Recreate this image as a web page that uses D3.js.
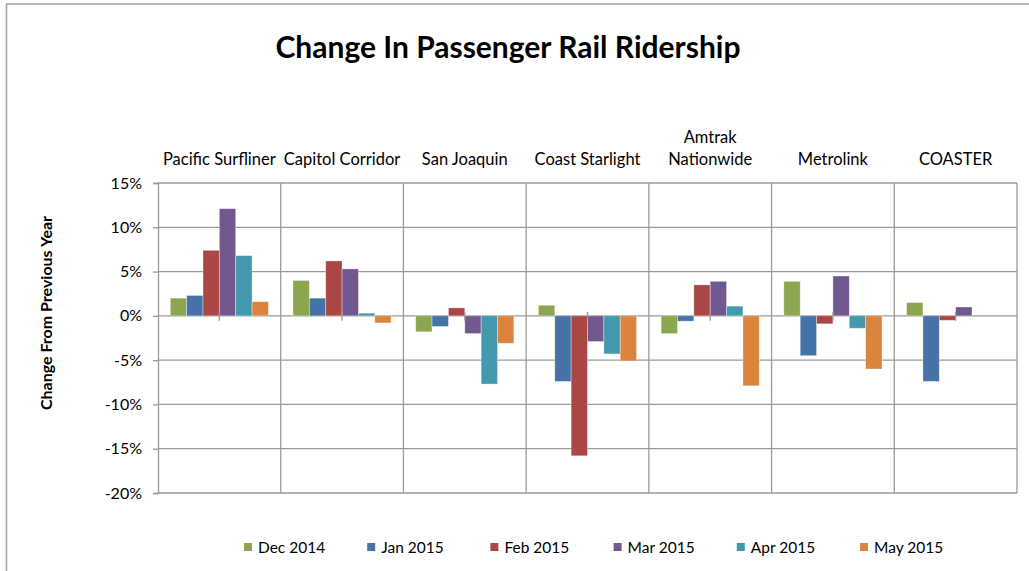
<!DOCTYPE html>
<html>
<head>
<meta charset="utf-8">
<script src="https://cdn.jsdelivr.net/npm/d3@7"></script>
<style>
  html, body { margin: 0; padding: 0; background: #fff; overflow: hidden; }
  svg { display: block; }
</style>
</head>
<body>
<svg id="chart" width="1029" height="571"></svg>
<script>
// Chart data
const categories = ['Pacific Surfliner', 'Capitol Corridor', 'San Joaquin', 'Coast Starlight', 'Amtrak Nationwide', 'Metrolink', 'COASTER'];
const seriesNames = ['Dec 2014', 'Jan 2015', 'Feb 2015', 'Mar 2015', 'Apr 2015', 'May 2015'];
// percent change per series, one value per category (null = no bar)
const dec2014 = [2.0, 4.0, -1.8, 1.2, -2.0, 3.9, 1.5];
const jan2015 = [2.3, 2.0, -1.2, -7.4, -0.6, -4.5, -7.4];
const feb2015 = [7.4, 6.2, 0.9, -15.8, 3.5, -0.9, -0.5];
const mar2015 = [12.1, 5.3, -2.0, -2.9, 3.9, 4.5, 1.0];
const apr2015 = [6.8, 0.3, -7.7, -4.3, 1.1, -1.4, null];
const may2015 = [1.6, -0.8, -3.1, -5.1, -7.9, -6.0, null];
const seriesValues = [dec2014, jan2015, feb2015, mar2015, apr2015, may2015];
const yTicks = [-20, -15, -10, -5, 0, 5, 10, 15];

const COLORS = ['#8aa64e', '#4572a7', '#aa4643', '#71588f', '#4198af', '#db843d'];

const C = {
  FONT: 'Lato, "Open Sans", sans-serif',
  GRID: '#9a9a9a',
  PLOT: { left: 158, right: 1017, top: 183, bottom: 493 },
  GAP_WIDTH: 0.75, // half of Excel's 150% gap, in bar widths
  TICK_SIZE: '16px',
  CAT_SIZE: '16.5px',
  Y_TITLE_CENTER: 313, // axis title sits a bit above the plot's middle
};

const svg = d3.select('#chart');

// outer chart frame (only top and left edges are visible in the picture)
svg.append('rect')
  .attr('x', 6.5).attr('y', 4)
  .attr('width', 1100).attr('height', 700)
  .attr('fill', 'none')
  .attr('stroke', '#a6a6a6')
  .attr('stroke-width', 1.6);

// Title
svg.append('text')
  .attr('x', 508).attr('y', 58)
  .attr('text-anchor', 'middle')
  .attr('font-family', C.FONT)
  .attr('font-weight', 'bold')
  .attr('font-size', '30px')
  .attr('fill', '#000')
  .text('Change In Passenger Rail Ridership');

const x = d3.scaleBand()
  .domain(categories)
  .range([C.PLOT.left, C.PLOT.right])
  .padding(0);

const xInner = d3.scaleBand()
  .domain(seriesNames)
  .range([0, x.bandwidth()])
  .paddingInner(0)
  .paddingOuter(C.GAP_WIDTH);

const y = d3.scaleLinear()
  .domain([-20, 15])
  .range([C.PLOT.bottom, C.PLOT.top]);

// horizontal gridlines
const grid = svg.append('g').attr('class', 'grid');
grid.selectAll('line.h')
  .data(yTicks)
  .join('line')
  .attr('class', 'h')
  .attr('x1', C.PLOT.left).attr('x2', C.PLOT.right)
  .attr('y1', d => y(d)).attr('y2', d => y(d))
  .attr('stroke', C.GRID)
  .attr('stroke-width', 1.3);

// vertical gridlines at category boundaries
grid.selectAll('line.v')
  .data(categories.slice(1).map(c => x(c)).concat([C.PLOT.right]))
  .join('line')
  .attr('class', 'v')
  .attr('x1', d => d).attr('x2', d => d)
  .attr('y1', C.PLOT.top).attr('y2', C.PLOT.bottom)
  .attr('stroke', C.GRID)
  .attr('stroke-width', 1.3);

// Y axis
const yAxis = d3.axisLeft(y)
  .tickValues(yTicks)
  .tickSize(5)
  .tickPadding(11)
  .tickFormat(d => d + '%');

const yAxisGroup = svg.append('g')
  .attr('transform', `translate(${C.PLOT.left},0)`)
  .call(yAxis);
yAxisGroup.select('.domain').attr('stroke', C.GRID).attr('stroke-width', 1.3);
yAxisGroup.selectAll('line').attr('stroke', C.GRID).attr('stroke-width', 1.3);
yAxisGroup.selectAll('text')
  .attr('font-family', C.FONT)
  .attr('font-size', C.TICK_SIZE)
  .attr('fill', '#000');

// Y axis title
svg.append('text')
  .attr('transform', `translate(52,${C.Y_TITLE_CENTER}) rotate(-90)`)
  .attr('text-anchor', 'middle')
  .attr('font-family', C.FONT)
  .attr('font-weight', 'bold')
  .attr('font-size', '16px')
  .attr('fill', '#000')
  .text('Change From Previous Year');

// Bars
const bars = svg.append('g').attr('class', 'bars');
seriesNames.forEach((name, si) => {
  const rows = categories.map((c, ci) => ({ c, v: seriesValues[si][ci] }))
    .filter(d => d.v !== null);
  bars.selectAll(null)
    .data(rows)
    .join('rect')
    .attr('x', d => x(d.c) + xInner(name))
    .attr('width', xInner.bandwidth())
    .attr('y', d => y(Math.max(0, d.v)))
    .attr('height', d => Math.abs(y(d.v) - y(0)))
    .attr('fill', COLORS[si])
    .attr('stroke', 'rgba(255,255,255,0.45)')
    .attr('stroke-width', 0.8);
});

// category axis at zero: tick marks at band centres crossing the line
svg.append('g').attr('class', 'x-ticks')
  .selectAll('line')
  .data(categories)
  .join('line')
  .attr('x1', d => x(d) + x.bandwidth() / 2)
  .attr('x2', d => x(d) + x.bandwidth() / 2)
  .attr('y1', y(0) - 4).attr('y2', y(0) + 5)
  .attr('stroke', C.GRID)
  .attr('stroke-width', 1.3);

// Category labels above the plot; wrap onto two lines when wider than the band
const catLabels = svg.append('g').attr('class', 'cat-labels');
categories.forEach(c => {
  const cx = x(c) + x.bandwidth() / 2;
  const t = catLabels.append('text')
    .attr('text-anchor', 'middle')
    .attr('font-family', C.FONT)
    .attr('font-size', C.CAT_SIZE)
    .attr('fill', '#000')
    .attr('x', cx).attr('y', 165)
    .text(c);
  if (t.node().getComputedTextLength() > x.bandwidth() - 4) {
    const words = c.split(' ');
    const lines = [words[0], words.slice(1).join(' ')];
    t.text(null);
    lines.forEach((ln, i) => {
      t.append('tspan')
        .attr('x', cx)
        .attr('y', 165 - (lines.length - 1 - i) * 22)
        .text(ln);
    });
  }
});

// Legend
const legend = svg.append('g').attr('class', 'legend');
const legendStep = 123.2;
seriesNames.forEach((name, i) => {
  const lx = 244 + i * legendStep;
  legend.append('rect')
    .attr('x', lx).attr('y', 543)
    .attr('width', 8).attr('height', 8)
    .attr('fill', COLORS[i]);
  legend.append('text')
    .attr('x', lx + 14).attr('y', 553)
    .attr('font-family', C.FONT)
    .attr('font-size', '15.5px')
    .attr('fill', '#000')
    .text(name);
});
</script>
</body>
</html>
